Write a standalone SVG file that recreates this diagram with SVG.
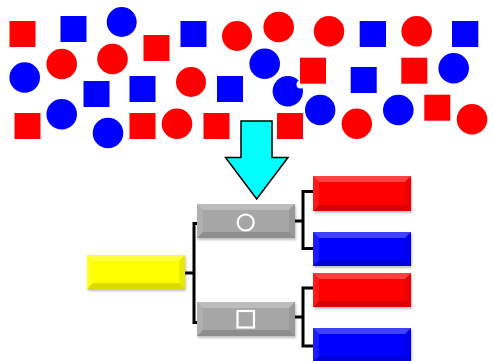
<svg xmlns="http://www.w3.org/2000/svg" width="493" height="361" viewBox="0 0 493 361">
<style>
.r{fill:#ff0000}
.b{fill:#0000ff}
.hi{fill:#ffffff;opacity:0.25}
.lt{fill:#ffffff;opacity:0.1}
.dk{fill:#000000;opacity:0.14}
.dr{fill:#000000;opacity:0.08}
.conn{fill:none;stroke:#000;stroke-width:3}
</style>
<defs>
<filter id="sh" x="-10%" y="-10%" width="130%" height="140%">
<feDropShadow dx="1" dy="2" stdDeviation="1" flood-color="#000" flood-opacity="0.25"/>
</filter>
</defs>
<g id="shapes">
<rect class="r" x="9.5" y="21" width="26" height="26"/>
<rect class="b" x="60.5" y="16" width="26" height="26"/>
<circle class="b" cx="121.7" cy="22" r="15"/>
<rect class="r" x="143.5" y="35" width="26" height="26"/>
<rect class="b" x="180.5" y="21" width="26" height="26"/>
<circle class="r" cx="237" cy="36" r="15"/>
<circle class="r" cx="61.7" cy="64" r="15.3"/>
<circle class="r" cx="112.5" cy="59" r="15.3"/>
<circle class="b" cx="24.7" cy="77.5" r="15.3"/>
<rect class="b" x="83.5" y="81" width="26" height="26"/>
<rect class="b" x="129.5" y="76" width="26" height="26"/>
<circle class="r" cx="191" cy="82" r="15"/>
<rect class="b" x="217" y="76" width="26" height="26"/>
<rect class="r" x="14.5" y="113" width="26" height="26"/>
<circle class="b" cx="61.7" cy="114.3" r="15.3"/>
<circle class="b" cx="108" cy="133" r="15.3"/>
<rect class="r" x="129.5" y="113" width="26" height="26"/>
<circle class="r" cx="177" cy="123.7" r="15.3"/>
<rect class="r" x="203.5" y="113" width="26" height="26"/>
<circle class="r" cx="278.7" cy="27" r="15.3"/>
<circle class="r" cx="329" cy="31.3" r="15.3"/>
<rect class="b" x="359.7" y="21" width="26.3" height="26"/>
<circle class="r" cx="416.7" cy="31.3" r="15.3"/>
<rect class="b" x="452" y="21" width="26.3" height="26"/>
<circle class="b" cx="264.7" cy="63.7" r="15.3"/>
<rect class="b" x="350.7" y="67" width="26" height="26"/>
<rect class="r" x="401.3" y="57.7" width="26" height="26"/>
<circle class="b" cx="453.7" cy="68.3" r="15.3"/>
<circle class="b" cx="287.8" cy="91.3" r="15.2"/>
<circle fill="#fff" cx="300.5" cy="84.5" r="4"/>
<rect class="r" x="300" y="57.7" width="26" height="26"/>
<circle class="b" cx="320.2" cy="110" r="15.2"/>
<rect class="r" x="277" y="113" width="26" height="26"/>
<circle class="r" cx="356.8" cy="123.7" r="15.2"/>
<circle class="b" cx="398.3" cy="110" r="15.3"/>
<rect class="r" x="424.3" y="94.7" width="26" height="26"/>
<circle class="r" cx="472" cy="119.3" r="15.3"/>
</g>
<g id="arrow">
<polygon points="241,121 272,121 272,157.5 288,157.5 256.7,199 225.5,157.5 241,157.5" fill="#00ffff" stroke="#000" stroke-width="1.5" stroke-linejoin="miter"/>
</g>
<g id="connectors">
<path class="conn" d="M185,273 H194 M197,223.5 H194 V322.5 H197"/>
<path class="conn" d="M295,221 H303 M313,191.5 H303 V248.5 H313"/>
<path class="conn" d="M295,317 H303 M313,288 H303 V346 H313"/>
</g>
<g id="root">
<g filter="url(#sh)"><rect x="87" y="255" width="98" height="34" fill="#ffff00"/></g>
<polygon class="hi" points="87,255 185,255 179,261 93,261"/>
<polygon class="dk" points="87,289 185,289 179,283 93,283"/>
<polygon class="lt" points="87,255 93,261 93,283 87,289"/>
<polygon class="dr" points="185,255 179,261 179,283 185,289"/>
</g>
<g id="circle-node">
<g filter="url(#sh)"><rect x="197" y="204" width="98" height="34" fill="#a6a6a6"/></g>
<polygon class="hi" points="197,204 295,204 289,210 203,210"/>
<polygon class="dk" points="197,238 295,238 289,232 203,232"/>
<polygon class="lt" points="197,204 203,210 203,232 197,238"/>
<polygon class="dr" points="295,204 289,210 289,232 295,238"/>
<circle cx="245.7" cy="222.5" r="8" fill="none" stroke="#fff" stroke-width="2.2"/>
</g>
<g id="square-node">
<g filter="url(#sh)"><rect x="197" y="302" width="98" height="34" fill="#a6a6a6"/></g>
<polygon class="hi" points="197,302 295,302 289,308 203,308"/>
<polygon class="dk" points="197,336 295,336 289,330 203,330"/>
<polygon class="lt" points="197,302 203,308 203,330 197,336"/>
<polygon class="dr" points="295,302 289,308 289,330 295,336"/>
<rect x="237.5" y="311" width="16.5" height="16.5" fill="none" stroke="#fff" stroke-width="2.2"/>
</g>
<g id="red1">
<g filter="url(#sh)"><rect x="313" y="176" width="98" height="35" fill="#ff0000"/></g>
<polygon class="hi" points="313,176 411,176 405,182 319,182"/>
<polygon class="dk" points="313,211 411,211 405,205 319,205"/>
<polygon class="lt" points="313,176 319,182 319,205 313,211"/>
<polygon class="dr" points="411,176 405,182 405,205 411,211"/>
</g>
<g id="blue1">
<g filter="url(#sh)"><rect x="313" y="232" width="98" height="34" fill="#0000ff"/></g>
<polygon class="hi" points="313,232 411,232 405,238 319,238"/>
<polygon class="dk" points="313,266 411,266 405,260 319,260"/>
<polygon class="lt" points="313,232 319,238 319,260 313,266"/>
<polygon class="dr" points="411,232 405,238 405,260 411,266"/>
</g>
<g id="red2">
<g filter="url(#sh)"><rect x="313" y="273" width="98" height="34" fill="#ff0000"/></g>
<polygon class="hi" points="313,273 411,273 405,279 319,279"/>
<polygon class="dk" points="313,307 411,307 405,301 319,301"/>
<polygon class="lt" points="313,273 319,279 319,301 313,307"/>
<polygon class="dr" points="411,273 405,279 405,301 411,307"/>
</g>
<g id="blue2">
<g filter="url(#sh)"><rect x="313" y="328" width="98" height="34" fill="#0000ff"/></g>
<polygon class="hi" points="313,328 411,328 405,334 319,334"/>
<polygon class="dk" points="313,362 411,362 405,356 319,356"/>
<polygon class="lt" points="313,328 319,334 319,356 313,362"/>
<polygon class="dr" points="411,328 405,334 405,356 411,362"/>
</g>
</svg>
